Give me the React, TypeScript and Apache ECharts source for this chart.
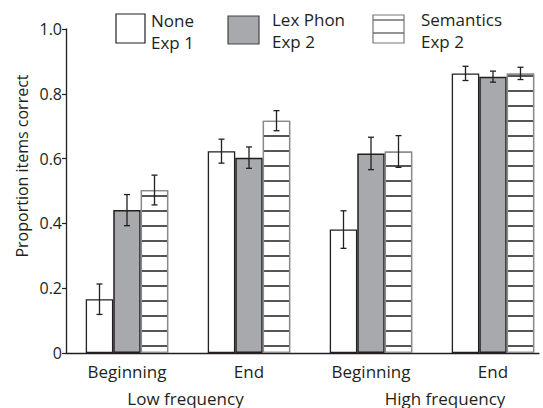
import React, { useEffect, useRef } from "react";
import * as echarts from "echarts";

const categories = ["Beginning", "End", "Beginning", "End"];
const groupLabels = ["Low frequency", "High frequency"];
const yTickLabels = ["0", "0.2", "0.4", "0.6", "0.8", "1.0"];
const legendLine1 = ["None", "Lex Phon", "Semantics"];
const legendLine2 = ["Exp 1", "Exp 2", "Exp 2"];
const yAxisTitle = "Proportion items correct";

const noneValues = [0.166, 0.623, 0.381, 0.863];
const noneErrors = [0.047, 0.037, 0.058, 0.022];
const lexValues = [0.441, 0.603, 0.616, 0.853];
const lexErrors = [0.048, 0.033, 0.05, 0.017];
const semValues = [0.503, 0.717, 0.622, 0.863];
const semErrors = [0.046, 0.031, 0.049, 0.019];

const FONT = "'Open Sans', 'Noto Sans', sans-serif";
const INK = "#231f20";
const GRAY = "#a7a9ac";
const BAR_W = 27.5;

function errorSeries(values: number[], errors: number[], offset: number) {
  return {
    type: "custom",
    xAxisIndex: 0,
    yAxisIndex: 0,
    silent: true,
    z: 5,
    data: values.map((v, i) => [i, v, errors[i]]),
    encode: { x: 0, y: 1 },
    renderItem: (params: any, api: any) => {
      const idx = api.value(0);
      const v = api.value(1);
      const e = api.value(2);
      const hi = api.coord([idx, v + e]);
      const lo = api.coord([idx, v - e]);
      const x = hi[0] + offset;
      const cap = 3;
      const st = { stroke: INK, lineWidth: 1.3 };
      return {
        type: "group",
        children: [
          { type: "line", shape: { x1: x, y1: hi[1], x2: x, y2: lo[1] }, style: st },
          { type: "line", shape: { x1: x - cap, y1: hi[1], x2: x + cap, y2: hi[1] }, style: st },
          { type: "line", shape: { x1: x - cap, y1: lo[1], x2: x + cap, y2: lo[1] }, style: st },
        ],
      };
    },
  };
}

export default function App() {
  const ref = useRef<HTMLDivElement>(null);
  useEffect(() => {
    if (!ref.current) return;
    const chart = echarts.init(ref.current, null, { renderer: "svg" });
    const legendTextX = [151, 272, 421];
    const legendMidY = [31.5, 30, 30.3];
    const graphics: any[] = [
      { type: "rect", shape: { x: 116, y: 14, width: 29, height: 29 }, style: { fill: "#fff", stroke: INK, lineWidth: 1.2 } },
      { type: "rect", shape: { x: 228, y: 16, width: 31, height: 28 }, style: { fill: GRAY, stroke: "#444", lineWidth: 1.2 } },
      { type: "rect", shape: { x: 373, y: 15, width: 31, height: 28 }, style: { fill: "#fff", stroke: "#777", lineWidth: 1.2 } },
      { type: "line", shape: { x1: 373, y1: 20, x2: 404, y2: 20 }, style: { stroke: "#666", lineWidth: 1.4 } },
      { type: "line", shape: { x1: 373, y1: 33, x2: 404, y2: 33 }, style: { stroke: "#666", lineWidth: 1.4 } },
    ];
    legendLine1.forEach((t, i) => {
      graphics.push({
        type: "text",
        x: legendTextX[i],
        y: legendMidY[i],
        style: {
          text: t + "\n" + legendLine2[i],
          fontSize: 17,
          lineHeight: 22,
          fontFamily: FONT,
          fill: INK,
          verticalAlign: "middle",
          align: "left",
        },
      });
    });
    const groupX = [185.5, 445];
    groupLabels.forEach((t, i) => {
      graphics.push({ type: "text", x: groupX[i], y: 398, style: { text: t, fontSize: 17, fontFamily: FONT, fill: INK, verticalAlign: "middle", align: "center" } });
    });
    graphics.push({ type: "text", x: 21.5, y: 166, rotation: Math.PI / 2, style: { text: yAxisTitle, fontSize: 16, fontFamily: FONT, fill: INK, verticalAlign: "middle", align: "center" } });

    chart.setOption({
      animation: false,
      backgroundColor: "#fff",
      grid: [
        { left: 66, right: -11, top: 29, bottom: 55, outerBoundsMode: "none", containLabel: false },
        { left: 66, right: 4, top: 29, bottom: 55, outerBoundsMode: "none", containLabel: false },
      ],
      xAxis: [
        {
          type: "category",
          gridIndex: 0,
          data: categories,
          axisLine: { show: false },
          axisTick: { show: false },
          axisLabel: { color: INK, fontSize: 17, fontFamily: FONT, margin: 10 },
        },
        {
          type: "value",
          gridIndex: 1,
          min: 0,
          max: 1,
          axisLine: { show: true, lineStyle: { color: INK, width: 1.3 } },
          axisTick: { show: false },
          axisLabel: { show: false },
          splitLine: { show: false },
        },
      ],
      yAxis: [
        {
          type: "value",
          gridIndex: 0,
          min: 0,
          max: 1,
          interval: 0.2,
          axisLine: { show: true, lineStyle: { color: INK, width: 1.3 } },
          axisTick: { show: true, length: 4, lineStyle: { color: INK, width: 1.2 } },
          axisLabel: {
            color: INK,
            fontSize: 16,
            fontFamily: FONT,
            margin: 4,
            formatter: (v: number) => yTickLabels[Math.round(v / 0.2)],
          },
          splitLine: { show: false },
        },
        { type: "value", gridIndex: 1, min: 0, max: 1, show: false },
      ],
      graphic: graphics,
      series: [
        {
          name: legendLine1[0],
          type: "bar",
          xAxisIndex: 0,
          yAxisIndex: 0,
          data: noneValues,
          barWidth: BAR_W,
          barGap: "0%",
          itemStyle: { color: "#fff", borderColor: INK, borderWidth: 1.3 },
        },
        {
          name: legendLine1[1],
          type: "bar",
          xAxisIndex: 0,
          yAxisIndex: 0,
          data: lexValues,
          barWidth: BAR_W,
          barGap: "0%",
          itemStyle: { color: GRAY, borderColor: INK, borderWidth: 1.5 },
        },
        {
          name: legendLine1[2],
          type: "bar",
          xAxisIndex: 0,
          yAxisIndex: 0,
          data: semValues,
          barWidth: BAR_W,
          barGap: "0%",
          itemStyle: {
            color: "#fff",
            borderColor: "#8a8a8a",
            borderWidth: 1.3,
            decal: {
              symbol: "rect",
              symbolSize: 1,
              dashArrayX: [1, 0],
              dashArrayY: [2, 13],
              color: "#555",
              rotation: 0,
            },
          },
        },
        errorSeries(noneValues, noneErrors, -BAR_W),
        errorSeries(lexValues, lexErrors, 0),
        errorSeries(semValues, semErrors, BAR_W),
      ],
    });
    return () => chart.dispose();
  }, []);
  return <div ref={ref} style={{ position: "fixed", left: 0, top: 0, width: 543, height: 408 }} />;
}
